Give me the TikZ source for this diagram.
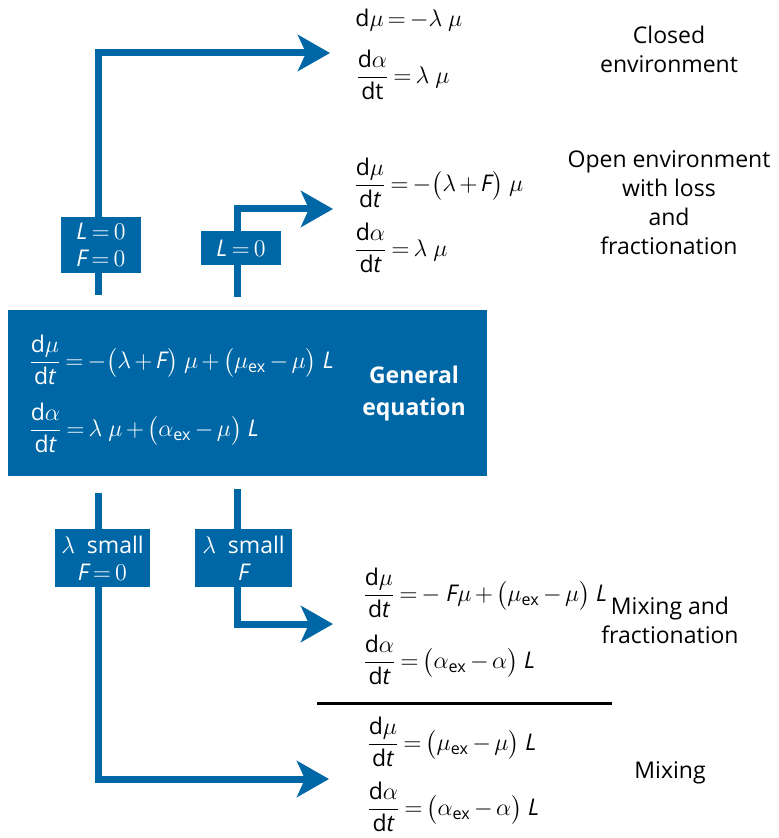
\documentclass[tikz,border=0pt]{standalone}
\usepackage{amsmath}
\usepackage{fontspec}
\setmainfont{Open Sans}
\usetikzlibrary{arrows.meta}
\definecolor{boxblue}{RGB}{0,103,166}
\thickmuskip=3mu
\medmuskip=2.5mu
\newcommand{\rate}[1]{\dfrac{\text{d}#1}{\text{d}\textit{t}}}
\newcommand{\vF}{\textit{F}}
\newcommand{\vL}{\textit{L}}
\newcommand{\ex}{_{\text{ex}}}
\begin{document}
\begin{tikzpicture}[
    x=0.5pt,y=-0.5pt,
    every node/.style={font=\fontsize{11.5}{14.5}\selectfont},
    cond/.style={fill=boxblue,text=white,inner sep=0pt,align=center},
    eqn/.style={anchor=west,inner sep=0pt},
    case/.style={align=center,inner sep=0pt},
    flow/.style={draw=boxblue,line width=3.5pt,
                 -{Stealth[length=16pt,width=18pt,inset=4pt]}}
  ]
    \useasboundingbox (0,0) rectangle (779,838);

    \node[fill=boxblue,minimum width=239.5pt,minimum height=83pt,inner sep=0pt]
      (general) at (247.5,393) {};
    \node[eqn,text=white] (geneq1) at (28,360)
      {$\rate{\mu} = -\bigl(\lambda + \vF\bigr)\ \mu + \bigl(\mu\ex - \mu\bigr)\ \vL$};
    \node[eqn,text=white] (geneq2) at (28,428)
      {$\rate{\alpha} = \lambda\ \mu + \bigl(\alpha\ex - \mu\bigr)\ \vL$};
    \node[case,text=white,font=\fontsize{11.5}{16}\selectfont\bfseries]
      (gentext) at (414,394) {General\\equation};

    \coordinate (up1) at (98,295);
    \coordinate (up2) at (237,297);
    \coordinate (down1) at (98,493);
    \coordinate (down2) at (237,489);
    \coordinate (closedtip) at (330,53);
    \coordinate (opentip) at (333,209);
    \coordinate (mixfractip) at (333,624);
    \coordinate (mixtip) at (329,779);

    \draw[flow] (up1) |- (closedtip);
    \draw[flow] (up2) |- (opentip);
    \draw[flow] (down2) |- (mixfractip);
    \draw[flow] (down1) |- (mixtip);

    \node[cond,minimum width=40pt,minimum height=28pt] (lf) at (101,245)
      {$\vL = 0$\\[-1pt]$\vF = 0$};
    \node[cond,minimum width=40pt,minimum height=17pt] (lonly) at (241,248)
      {$\vL = 0$};
    \node[cond,minimum width=47.5pt,minimum height=29pt] (smallf0) at (102.5,558)
      {$\lambda$\ \ small\\[-1pt]$\vF = 0$};
    \node[cond,minimum width=48.5pt,minimum height=29pt] (smallf) at (243.5,558)
      {$\lambda$\ \ small\\[-1pt]$\vF$};

    \node[eqn] (closedeq1) at (355,20) {$\text{d}\mu = -\lambda\ \mu$};
    \node[eqn] (closedeq2) at (355,75) {$\dfrac{\text{d}\alpha}{\text{dt}} = \lambda\ \mu$};
    \node[case] (closed) at (669,49) {Closed\\environment};

    \node[eqn] (openeq1) at (353,183) {$\rate{\mu} = -\bigl(\lambda + \vF\bigr)\ \mu$};
    \node[eqn] (openeq2) at (353,248) {$\rate{\alpha} = \lambda\ \mu$};
    \node[case] (open) at (669,203) {Open environment\\with loss\\and\\fractionation};

    \node[eqn] (mixfraceq1) at (362,593)
      {$\rate{\mu} = -\ \vF\mu + \bigl(\mu\ex - \mu\bigr)\ \vL$};
    \node[eqn] (mixfraceq2) at (362,660)
      {$\rate{\alpha} = \bigl(\alpha\ex - \alpha\bigr)\ \vL$};
    \node[case] (mixfrac) at (670,620) {Mixing and\\fractionation};

    \draw[line width=1.5pt] (317,703) -- (612,703);

    \node[eqn] (mixeq1) at (366,742)
      {$\rate{\mu} = \bigl(\mu\ex - \mu\bigr)\ \vL$};
    \node[eqn] (mixeq2) at (366,807)
      {$\rate{\alpha} = \bigl(\alpha\ex - \alpha\bigr)\ \vL$};
    \node[case] (mix) at (670,773) {Mixing};
  \end{tikzpicture}
\end{document}
